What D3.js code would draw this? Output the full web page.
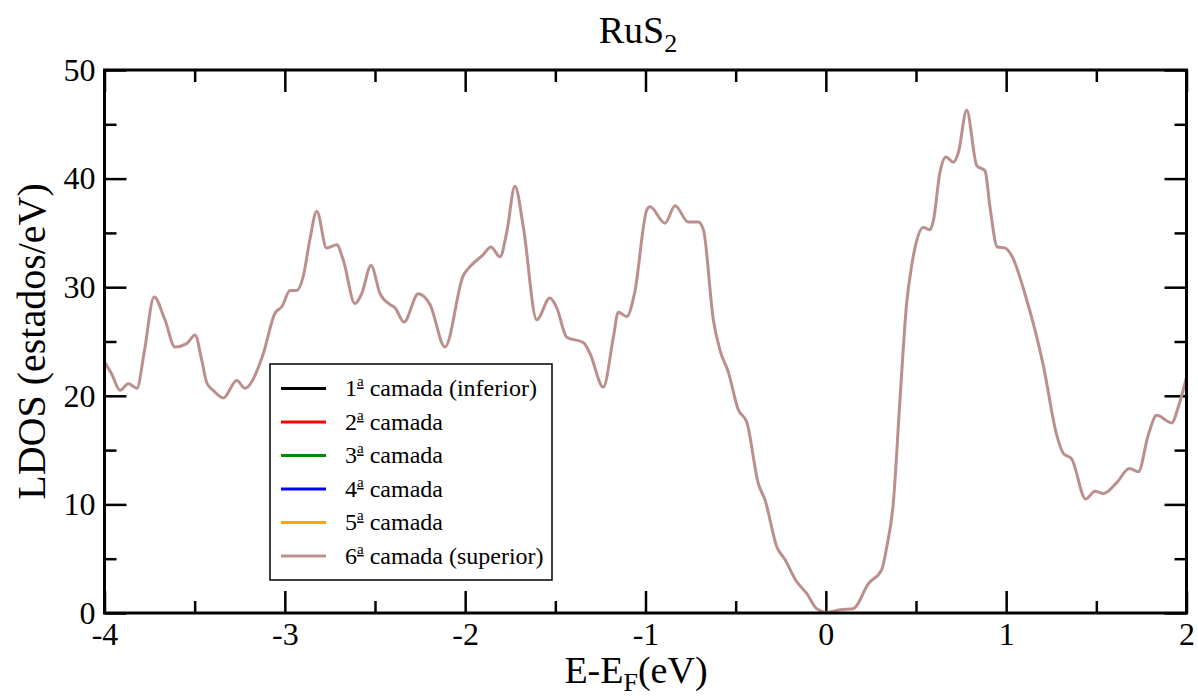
<!DOCTYPE html>
<html lang="pt">
<head>
    <meta charset="UTF-8">
    <title>RuS2 LDOS</title>
    <script src="https://d3js.org/d3.v7.min.js"></script>
    <style>
        body { margin: 0; background: #fff; }
        text { font-family: "Liberation Serif", "Times New Roman", serif; fill: #000; }
    </style>
</head>
<body>
    <div id="chart"></div>

    <script>
        // energy (eV) relative to Fermi level, and LDOS of the top layer
        const energy = [-4.000, -3.960, -3.914, -3.868, -3.820, -3.780, -3.725, -3.665, -3.609, -3.544,
            -3.498, -3.461, -3.433, -3.397, -3.341, -3.267, -3.221, -3.138, -3.119, -3.055,
            -3.017, -2.971, -2.934, -2.898, -2.860, -2.823, -2.768, -2.712, -2.676, -2.611,
            -2.574, -2.522, -2.472, -2.417, -2.389, -2.339, -2.260, -2.195, -2.112, -2.010,
            -1.973, -1.900, -1.857, -1.807, -1.770, -1.724, -1.678, -1.603, -1.530, -1.492,
            -1.437, -1.345, -1.308, -1.234, -1.178, -1.151, -1.104, -1.060, -0.993, -0.975,
            -0.892, -0.836, -0.763, -0.707, -0.679, -0.624, -0.587, -0.541, -0.485, -0.439,
            -0.374, -0.337, -0.272, -0.226, -0.162, -0.106, -0.051, 0.005, 0.079, 0.152,
            0.236, 0.310, 0.337, 0.374, 0.411, 0.448, 0.476, 0.494, 0.541, 0.578,
            0.596, 0.633, 0.666, 0.707, 0.735, 0.781, 0.837, 0.883, 0.910, 0.951,
            0.994, 1.031, 1.104, 1.206, 1.280, 1.317, 1.363, 1.441, 1.493, 1.539,
            1.613, 1.683, 1.733, 1.788, 1.835, 1.918, 1.955, 2.000];
        const ldos = [23.1, 22.0, 20.5, 21.1, 20.7, 24.0, 29.1, 27.0, 24.5, 24.8,
            25.6, 23.3, 21.2, 20.5, 19.8, 21.4, 20.7, 23.0, 23.9, 27.6,
            28.2, 29.7, 29.7, 31.0, 34.5, 37.0, 33.6, 33.9, 32.5, 28.5,
            29.4, 32.0, 29.4, 28.4, 28.1, 26.8, 29.4, 28.4, 24.5, 31.1,
            31.9, 33.0, 33.7, 32.8, 35.0, 39.3, 35.6, 27.0, 29.0, 28.1,
            25.4, 24.9, 23.9, 20.8, 25.4, 27.7, 27.3, 29.5, 37.1, 37.4,
            35.9, 37.5, 36.0, 36.0, 35.3, 27.0, 24.2, 22.2, 18.7, 17.6,
            11.9, 10.4, 6.1, 4.9, 2.9, 1.8, 0.4, 0.05, 0.3, 0.4,
            2.7, 4.0, 6.0, 10.1, 19.6, 28.5, 32.0, 33.6, 35.5, 35.3,
            36.1, 40.6, 42.0, 41.5, 42.4, 46.3, 41.2, 40.7, 37.4, 33.7,
            33.6, 32.9, 29.4, 22.8, 16.4, 14.7, 14.2, 10.5, 11.2, 11.0,
            12.0, 13.3, 13.0, 16.4, 18.2, 17.5, 19.0, 21.7];

        const layerNames = ['1', '2', '3', '4', '5', '6'];
        const layerSuffix = [' camada (inferior)', ' camada', ' camada', ' camada', ' camada', ' camada (superior)'];
        const layerColors = ['#000000', '#ff0000', '#008b00', '#0000ff', '#ffa500', '#bc8f8f'];

        const xTicks = [-4, -3, -2, -1, 0, 1, 2];
        const yTicks = [0, 10, 20, 30, 40, 50];

        const W = 1198, H = 698;
        const margin = {top: 70, right: 11.5, bottom: 85, left: 104.5},
            width = W - margin.left - margin.right,
            height = H - margin.top - margin.bottom;

        const root = d3.select('#chart')
            .append('svg')
                .attr('width', W)
                .attr('height', H);
        const svg = root.append('g')
                .attr('transform', `translate(${margin.left}, ${margin.top})`);

        const x = d3.scaleLinear().domain([-4, 2]).range([0, width]);
        const y = d3.scaleLinear().domain([0, 50]).range([height, 0]);

        const xMinor = d3.range(-3.5, 2, 1);
        const yMinor = d3.range(5, 50, 10);
        const fmt = d => String(d);

        // ticks point inwards on all four sides
        function tickAxis(axisFn, scale, values, size, labels, pos) {
            const g = svg.append('g')
                .attr('transform', pos)
                .call(axisFn(scale).tickValues(values).tickSize(-size).tickPadding(labels ? 9 : 0)
                    .tickFormat(labels ? fmt : ''));
            g.select('.domain').remove();
            g.selectAll('line').attr('stroke', '#000').attr('stroke-width', 2.5);
            g.selectAll('text').style('font-size', '32px').attr('fill', '#000');
            return g;
        }
        tickAxis(d3.axisBottom, x, xTicks, 22, true, `translate(0, ${height})`);
        tickAxis(d3.axisBottom, x, xMinor, 12, false, `translate(0, ${height})`);
        tickAxis(d3.axisTop, x, xTicks, 22, false, 'translate(0, 0)');
        tickAxis(d3.axisTop, x, xMinor, 12, false, 'translate(0, 0)');
        tickAxis(d3.axisLeft, y, yTicks, 22, true, 'translate(0, 0)');
        tickAxis(d3.axisLeft, y, yMinor, 12, false, 'translate(0, 0)');
        tickAxis(d3.axisRight, y, yTicks, 22, false, `translate(${width}, 0)`);
        tickAxis(d3.axisRight, y, yMinor, 12, false, `translate(${width}, 0)`);

        // the curve (all six layers coincide, the top layer is drawn last)
        const pts = energy.map((e, i) => [e, ldos[i]]);
        svg.append('path')
            .datum(pts)
            .attr('fill', 'none')
            .attr('stroke', layerColors[5])
            .attr('stroke-width', 3)
            .attr('stroke-linejoin', 'round')
            .attr('d', d3.line()
                .x(d => x(d[0]))
                .y(d => y(d[1]))
                .curve(d3.curveMonotoneX));

        // frame
        svg.append('rect')
            .attr('width', width)
            .attr('height', height)
            .attr('fill', 'none')
            .attr('stroke', '#000')
            .attr('stroke-width', 3);

        // legend
        const leg = svg.append('g').attr('transform', 'translate(165.5, 294)');
        leg.append('rect')
            .attr('x', 0).attr('y', 0)
            .attr('width', 282).attr('height', 216)
            .attr('fill', '#fff')
            .attr('stroke', '#000')
            .attr('stroke-width', 1.5);
        const rows = leg.selectAll('g.row')
            .data(layerNames)
            .join('g')
            .attr('class', 'row')
            .attr('transform', (d, i) => `translate(0, ${24.5 + i * 33.5})`);
        rows.append('line')
            .attr('x1', 11).attr('x2', 56)
            .attr('stroke', (d, i) => layerColors[i])
            .attr('stroke-width', 3);
        const lt = rows.append('text')
            .attr('x', 75)
            .attr('dy', '0.33em')
            .style('font-size', '24px');
        lt.append('tspan').text(d => d);
        lt.append('tspan')
            .attr('dy', -10)
            .style('font-size', '15px')
            .style('text-decoration', 'underline')
            .text('a');
        lt.append('tspan').attr('dy', 10).text((d, i) => layerSuffix[i]);

        // title
        const title = root.append('text')
            .attr('x', 638)
            .attr('y', 43)
            .attr('text-anchor', 'middle')
            .style('font-size', '38px');
        title.append('tspan').text('RuS');
        title.append('tspan').attr('dy', 9).style('font-size', '26px').text('2');

        // axis labels
        const xl = root.append('text')
            .attr('x', 636)
            .attr('y', 683)
            .attr('text-anchor', 'middle')
            .style('font-size', '38px');
        xl.append('tspan').text('E-E');
        xl.append('tspan').attr('dy', 8).style('font-size', '26px').text('F');
        xl.append('tspan').attr('dy', -8).text('(eV)');

        root.append('text')
            .attr('transform', `translate(45, ${margin.top + height / 2}) rotate(-90)`)
            .attr('text-anchor', 'middle')
            .style('font-size', '40px')
            .text('LDOS (estados/eV)');
    </script>
</body>
</html>
